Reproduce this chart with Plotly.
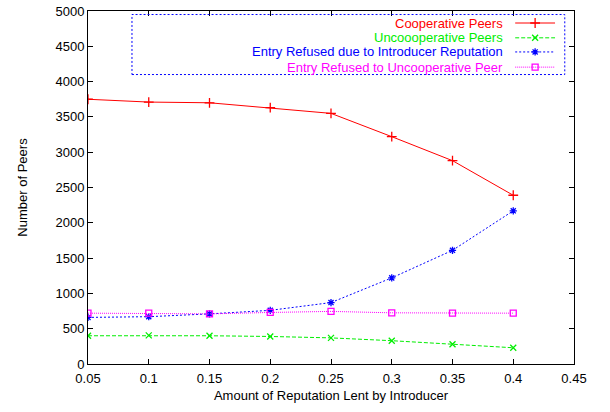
import plotly.graph_objects as go

# Amount of reputation lent by the introducer
reputation_lent = [0.05, 0.10, 0.15, 0.20, 0.25, 0.30, 0.35, 0.40]

# Peer counts for each outcome
cooperative_peers = [3750, 3710, 3700, 3630, 3550, 3220, 2880, 2390]
uncooperative_peers = [400, 405, 400, 390, 370, 330, 280, 230]
refused_introducer_rep = [660, 670, 710, 760, 870, 1220, 1610, 2170]
refused_uncooperative = [720, 720, 710, 730, 745, 725, 720, 720]

series_names = [
    "Cooperative Peers",
    "Uncoooperative Peers",
    "Entry Refused due to Introducer Reputation",
    "Entry Refused to Uncooperative Peer",
]

x_ticks = [0.05, 0.1, 0.15, 0.2, 0.25, 0.3, 0.35, 0.4, 0.45]
x_tick_text = ["0.05", "0.1", "0.15", "0.2", "0.25", "0.3", "0.35", "0.4", "0.45"]
y_ticks = list(range(0, 5001, 500))

styles = [
    dict(color="#ff0000", dash="solid", symbol="cross-thin-open", size=7),
    dict(color="#00ee00", dash="4px,2px", symbol="x-thin-open", size=6),
    dict(color="#0000ff", dash="2px,2px", symbol="asterisk-open", size=6),
    dict(color="#ff00ff", dash="1px,1px", symbol="square-open", size=6),
]
values = [cooperative_peers, uncooperative_peers, refused_introducer_rep, refused_uncooperative]

FONT = "Liberation Sans, Arial, Helvetica, sans-serif"

fig = go.Figure()
for name, ys, st in zip(series_names, values, styles):
    fig.add_trace(go.Scatter(
        x=reputation_lent, y=ys, name=name, mode="lines+markers",
        line=dict(color=st["color"], width=1, dash=st["dash"]),
        marker=dict(symbol=st["symbol"], size=st["size"],
                    line=dict(color=st["color"], width=1.3)),
        showlegend=False,
    ))

# gnuplot-style key: right-aligned text with the sample line to its right
key_x0, key_x1 = 0.0905, 0.981   # box edges in paper coords
key_y0, key_y1 = 0.820, 0.990
row_y = [0.966, 0.924, 0.884, 0.841]
sample_x0, sample_x1 = 0.879, 0.961
text_right = 0.858
for name, st, ry in zip(series_names, styles, row_y):
    fig.add_shape(type="line", xref="paper", yref="paper",
                  x0=sample_x0, x1=sample_x1, y0=ry, y1=ry,
                  line=dict(color=st["color"], width=1, dash=st["dash"]))
    fig.add_trace(go.Scatter(
        x=[(sample_x0 + sample_x1) / 2], y=[ry], xaxis="x2", yaxis="y2",
        mode="markers", showlegend=False, hoverinfo="skip",
        marker=dict(symbol=st["symbol"], size=st["size"],
                    line=dict(color=st["color"], width=1.3), color=st["color"]),
    ))
    fig.add_annotation(xref="paper", yref="paper", x=text_right, y=ry,
                       xanchor="right", yanchor="middle", showarrow=False,
                       text=name, font=dict(color=st["color"], size=13, family=FONT))
fig.add_shape(type="rect", xref="paper", yref="paper",
              x0=key_x0, x1=key_x1, y0=key_y0, y1=key_y1,
              line=dict(color="#0000ff", width=1, dash="2px,2px"))

fig.update_layout(
    width=610, height=412,
    margin=dict(l=88, r=36, t=11, b=48),
    paper_bgcolor="white", plot_bgcolor="white",
    font=dict(family=FONT, size=13, color="black"),
    xaxis=dict(
        range=[0.05, 0.45], tickvals=x_ticks, ticktext=x_tick_text,
        ticks="inside", ticklen=5, tickcolor="black", showline=True,
        linecolor="black", linewidth=1, mirror="ticks", showgrid=False,
        zeroline=False, automargin=False, ticklabelstandoff=2,
        title=dict(text="Amount of Reputation Lent by Introducer", standoff=6,
                   font=dict(size=13)),
    ),
    yaxis=dict(
        range=[0, 5000], tickvals=y_ticks,
        ticks="inside", ticklen=5, tickcolor="black", showline=True,
        linecolor="black", linewidth=1, mirror="ticks", showgrid=False,
        zeroline=False, automargin=False,
        title=dict(text="Number of Peers", standoff=24, font=dict(size=13)),
    ),
    xaxis2=dict(overlaying="x", range=[0, 1], visible=False, anchor="y2",
                domain=[0, 1]),
    yaxis2=dict(range=[0, 1], visible=False, anchor="x2", overlaying="y"),
)

fig.write_html("out.html")
